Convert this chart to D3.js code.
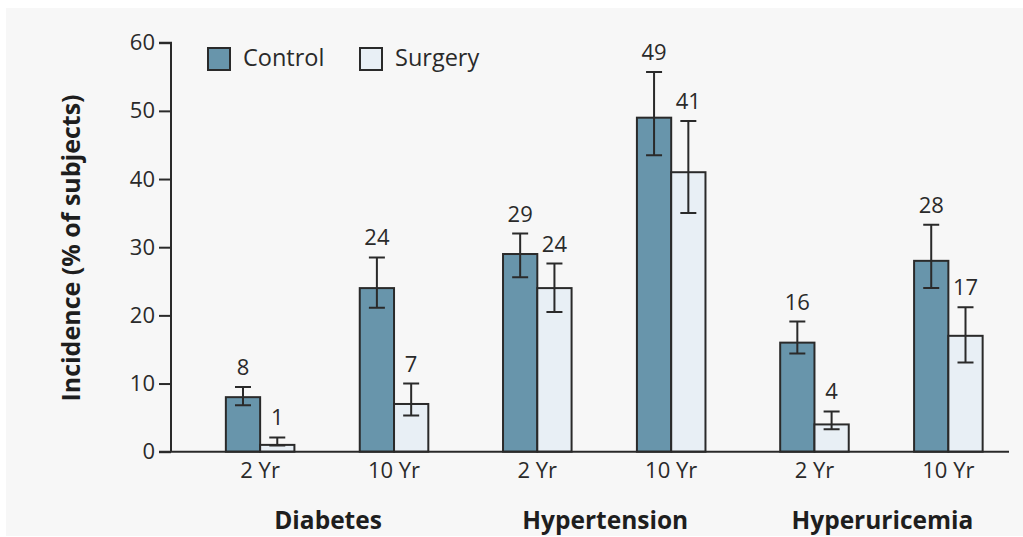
<!DOCTYPE html>
<html>
<head>
<meta charset="utf-8">
<script src="https://cdn.jsdelivr.net/npm/d3@7/dist/d3.min.js"></script>
<style>
  html, body { margin: 0; padding: 0; background: #ffffff; }
  svg { display: block; }
  .tick-text { font-family: "Open Sans", "Noto Sans", sans-serif; font-size: 22px; fill: #2a2a2a; }
  .legend-text { font-family: "Open Sans", "Noto Sans", sans-serif; font-size: 23.5px; fill: #2a2a2a; }
  .bold-text { font-family: "Open Sans", "Noto Sans", sans-serif; font-weight: 700; fill: #1e1e1e; }
</style>
</head>
<body>
<svg id="chart" width="1023" height="537"></svg>
<script>
// Conditions and follow-up periods
const conditions = ["Diabetes", "Hypertension", "Hyperuricemia"];
const periods = ["2 Yr", "10 Yr"];
const seriesNames = ["Control", "Surgery"];

// Incidence (% of subjects), ordered condition by condition, 2 Yr then 10 Yr
const controlValues = [8, 24, 29, 49, 16, 28];
const surgeryValues = [1, 7, 24, 41, 4, 17];

// Error bar bounds (% of subjects)
const controlLower = [6.8, 21.1, 25.6, 43.5, 14.4, 24.0];
const controlUpper = [9.5, 28.5, 32.0, 55.7, 19.1, 33.3];
const surgeryLower = [0.9, 5.3, 20.5, 35.0, 3.3, 13.1];
const surgeryUpper = [2.1, 10.0, 27.6, 48.5, 5.9, 21.2];

const yTicks = [0, 10, 20, 30, 40, 50, 60];

const colors = { Control: "#6895ab", Surgery: "#e8eff5" };
const strokeColor = "#2a2a2a";

const svg = d3.select("#chart");

// Light panel behind the chart
svg.append("rect")
  .attr("x", 6).attr("y", 8)
  .attr("width", 1017).attr("height", 528)
  .attr("fill", "#f7f7f7");

const y = d3.scaleLinear().domain([0, 60]).range([451.7, 42.7]);

const xOuter = d3.scaleBand().domain(conditions).range([188.5, 1020]).padding(0);
const xInner = d3.scaleBand().domain(periods).range([0, xOuter.bandwidth()])
  .paddingInner(0.488).paddingOuter(0.279);
const xSeries = d3.scaleBand().domain(seriesNames).range([0, xInner.bandwidth()]).padding(0);

// Flatten into records
const records = [];
conditions.forEach((c, ci) => {
  periods.forEach((p, pi) => {
    const i = ci * periods.length + pi;
    records.push({ condition: c, period: p, series: "Control", value: controlValues[i], lo: controlLower[i], hi: controlUpper[i] });
    records.push({ condition: c, period: p, series: "Surgery", value: surgeryValues[i], lo: surgeryLower[i], hi: surgeryUpper[i] });
  });
});
const barX = d => xOuter(d.condition) + xInner(d.period) + xSeries(d.series);
const barCx = d => barX(d) + xSeries.bandwidth() / 2;

// Y axis
const yAxis = d3.axisLeft(y).tickValues(yTicks).tickSize(12).tickPadding(4);
const gy = svg.append("g").attr("transform", "translate(171,0)").call(yAxis);
gy.select(".domain").attr("stroke", strokeColor).attr("stroke-width", 2).attr("d", `M-12,${y(60)}H0V${y(0)}`);
gy.selectAll(".tick line").attr("stroke", strokeColor).attr("stroke-width", 2);
gy.selectAll(".tick text").attr("class", "tick-text").attr("fill", "#2a2a2a");

// Bars
svg.append("g").selectAll("rect").data(records).join("rect")
  .attr("x", barX)
  .attr("y", d => y(d.value))
  .attr("width", xSeries.bandwidth())
  .attr("height", d => y(0) - y(d.value))
  .attr("fill", d => colors[d.series])
  .attr("stroke", strokeColor)
  .attr("stroke-width", 2);

// X baseline
svg.append("line")
  .attr("x1", 159).attr("x2", 1009)
  .attr("y1", y(0)).attr("y2", y(0))
  .attr("stroke", strokeColor).attr("stroke-width", 2);

// Error bars
const capW = 8;
const eb = svg.append("g").attr("stroke", strokeColor).attr("stroke-width", 2);
eb.selectAll("path").data(records).join("path")
  .attr("fill", "none")
  .attr("d", d => {
    const cx = barCx(d), t = y(d.hi), b = y(d.lo);
    return `M${cx - capW},${t}H${cx + capW}M${cx},${t}V${b}M${cx - capW},${b}H${cx + capW}`;
  });

// Value labels
svg.append("g").selectAll("text").data(records).join("text")
  .attr("class", "tick-text")
  .attr("x", barCx)
  .attr("y", d => y(d.hi) - 12)
  .attr("text-anchor", "middle")
  .text(d => d.value);

// Period labels
const pl = svg.append("g");
conditions.forEach(c => {
  periods.forEach(p => {
    pl.append("text")
      .attr("class", "tick-text")
      .attr("x", xOuter(c) + xInner(p) + xInner.bandwidth() / 2)
      .attr("y", 478)
      .attr("text-anchor", "middle")
      .text(p);
  });
});

// Condition labels
svg.append("g").selectAll("text").data(conditions).join("text")
  .attr("class", "bold-text")
  .attr("font-size", 24.5)
  .attr("x", d => xOuter(d) + xOuter.bandwidth() / 2 + 1)
  .attr("y", 529)
  .attr("text-anchor", "middle")
  .text(d => d);

// Y axis title
svg.append("text")
  .attr("class", "bold-text")
  .attr("font-size", 25)
  .attr("transform", "translate(80,248) rotate(-90)")
  .attr("text-anchor", "middle")
  .text("Incidence (% of subjects)");

// Legend
const legendX = [207, 359];
const lg = svg.append("g");
seriesNames.forEach((s, i) => {
  lg.append("rect")
    .attr("x", legendX[i] + 1).attr("y", 48)
    .attr("width", 22).attr("height", 22)
    .attr("fill", colors[s])
    .attr("stroke", strokeColor).attr("stroke-width", 2);
  lg.append("text")
    .attr("class", "legend-text")
    .attr("x", legendX[i] + 36).attr("y", 66)
    .text(s);
});
</script>
</body>
</html>
